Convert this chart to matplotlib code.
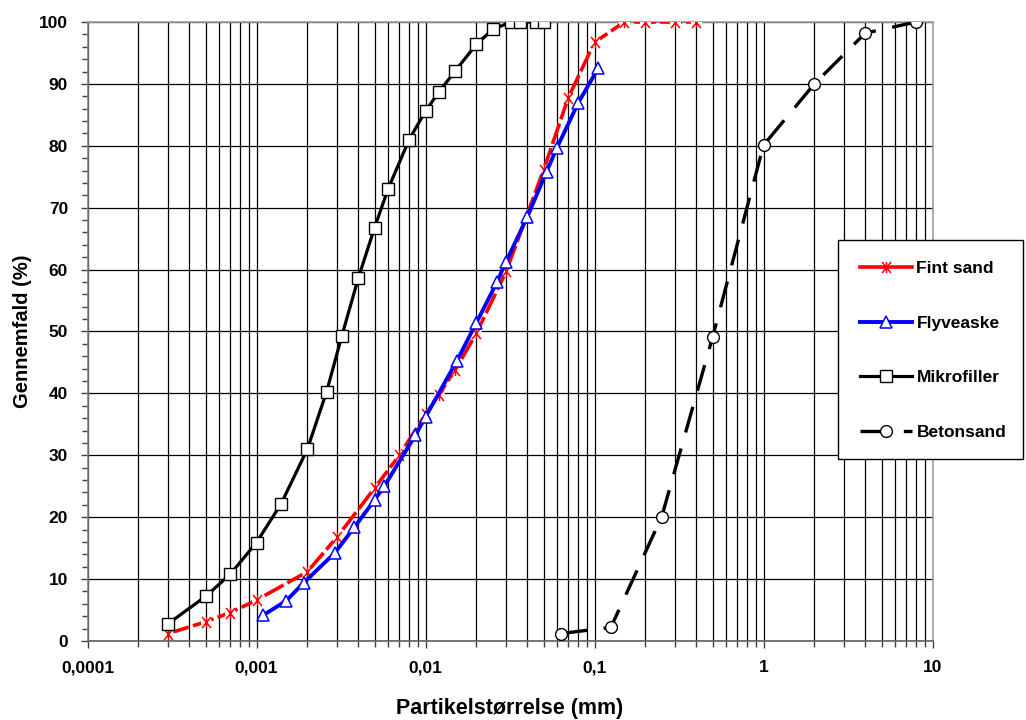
import numpy as np
import matplotlib.pyplot as plt
from matplotlib.path import Path
from matplotlib.patches import Rectangle
from matplotlib.ticker import FixedLocator, LogLocator, MultipleLocator, NullFormatter

plt.rcParams['font.family'] = ['Liberation Sans', 'DejaVu Sans']
plt.rcParams['font.weight'] = 'bold'

# data
fint_x = [0.0003, 0.0005, 0.0007, 0.001, 0.002, 0.003, 0.005, 0.007, 0.01, 0.012,
          0.015, 0.02, 0.03, 0.05, 0.07, 0.1, 0.15, 0.2, 0.3, 0.4]
fint_y = [1.2, 3.1, 4.6, 6.6, 11.2, 16.8, 24.7, 30.0, 36.6, 39.8,
          43.8, 49.7, 59.7, 76.1, 87.8, 96.7, 100, 100, 100, 100]

flyve_x = [0.0011, 0.0015, 0.0019, 0.0029, 0.0038, 0.005, 0.0057, 0.0087, 0.01,
           0.0153, 0.02, 0.0265, 0.03, 0.04, 0.052, 0.06, 0.08, 0.105]
flyve_y = [4.2, 6.5, 9.4, 14.2, 18.4, 22.8, 25.0, 33.2, 36.2,
           45.2, 51.4, 58.0, 61.3, 68.5, 75.8, 79.7, 86.9, 92.5]

mikro_x = [0.0003, 0.0005, 0.0007, 0.001, 0.0014, 0.002, 0.0026, 0.0032, 0.004, 0.005,
           0.006, 0.008, 0.01, 0.012, 0.015, 0.02, 0.025, 0.032, 0.036, 0.045, 0.05]
mikro_y = [2.8, 7.2, 10.8, 15.9, 22.2, 31.0, 40.3, 49.3, 58.6, 66.8,
           73.0, 81.0, 85.6, 88.7, 92.1, 96.4, 98.8, 100, 100, 100, 100]

beton_x = [0.063, 0.125, 0.25, 0.5, 1, 2, 4, 8]
beton_y = [1.2, 2.2, 20.1, 49.1, 80.1, 90.0, 98.2, 100]

xticks = [0.0001, 0.001, 0.01, 0.1, 1, 10]
xticklabels = ['0,0001', '0,001', '0,01', '0,1', '1', '10']

W, H = 1026, 720
fig = plt.figure(figsize=(10.26, 7.2), dpi=100)
ax = fig.add_axes([87.5/W, 79/H, 845/W, 619/H])

star = Path([(-0.8, -1), (0.8, 1), (-0.8, 1), (0.8, -1), (0, -1), (0, 1)],
            [Path.MOVETO, Path.LINETO] * 3)

ax.plot(fint_x, fint_y, color='#ff0000', lw=2.6, ls=(0, (6, 1.2)), zorder=3)
ax.plot(fint_x, fint_y, ls='none', marker='o', ms=8, mfc='white', mec='none', zorder=3.1)
ax.plot(fint_x, fint_y, ls='none', marker=star, ms=8, mfc='none', mec='#ff0000', mew=1.1, zorder=3.2)
ax.plot([], [], color='#ff0000', lw=2.6, marker=star, ms=8, mfc='none', mec='#ff0000',
        mew=1.1, label='Fint sand')

ax.plot(flyve_x, flyve_y, color='#0000ff', lw=2.8, marker='^', ms=9, mfc='white',
        mec='#0000ff', mew=1.1, zorder=4, label='Flyveaske')
ax.plot(mikro_x, mikro_y, color='black', lw=2.3, marker='s', ms=8, mfc='white',
        mec='black', mew=1.0, zorder=5, label='Mikrofiller')
ax.plot(beton_x, beton_y, color='black', lw=2.4, ls=(0, (8, 5)), marker='o', ms=8.5,
        mfc='white', mec='black', mew=1.0, zorder=5, label='Betonsand')

ax.set_xscale('log')
ax.set_xlim(1e-4, 10)
ax.set_ylim(0, 100)
ax.xaxis.set_major_locator(FixedLocator(xticks))
ax.set_xticklabels(xticklabels)
ax.xaxis.set_minor_locator(LogLocator(base=10, subs=np.arange(2, 10), numticks=20))
ax.xaxis.set_minor_formatter(NullFormatter())
ax.yaxis.set_major_locator(MultipleLocator(10))
ax.yaxis.set_minor_locator(MultipleLocator(2))

ax.grid(which='both', axis='x', color='black', lw=0.9)
ax.grid(which='major', axis='y', color='black', lw=0.9)
ax.set_axisbelow(True)

ax.tick_params(axis='both', which='both', direction='out', color='#404040', labelsize=12.5)
ax.tick_params(axis='both', which='major', length=5, width=1)
ax.tick_params(axis='both', which='minor', length=4, width=1)
ax.tick_params(axis='x', pad=9)
ax.tick_params(axis='y', pad=9)

for s in ['top', 'right']:
    ax.spines[s].set_color('#a0a0a0')
ax.spines['left'].set_color('#808080')
ax.spines['bottom'].set_color('#606060')
for s in ax.spines.values():
    s.set_linewidth(1.2)

ax.set_xlabel('Partikelstørrelse (mm)', fontsize=15.5, fontweight='bold', labelpad=16)
ax.set_ylabel('Gennemfald (%)', fontsize=14.5, fontweight='bold', labelpad=5)

# legend box drawn separately so its frame can sit exactly where the reference has it
fig.patches.append(Rectangle((838/W, 1 - 459/H), 185/W, 219/H, transform=fig.transFigure,
                             facecolor='white', edgecolor='black', lw=1.0, zorder=4))
leg = fig.legend(loc='upper left', bbox_to_anchor=(860/W, 1 - 261/H), borderaxespad=0,
                 borderpad=0, fontsize=12.5, frameon=False, labelspacing=2.27,
                 handlelength=3.0, handletextpad=0.25)
leg.set_zorder(5)

fig.savefig('out.png', dpi=100)
